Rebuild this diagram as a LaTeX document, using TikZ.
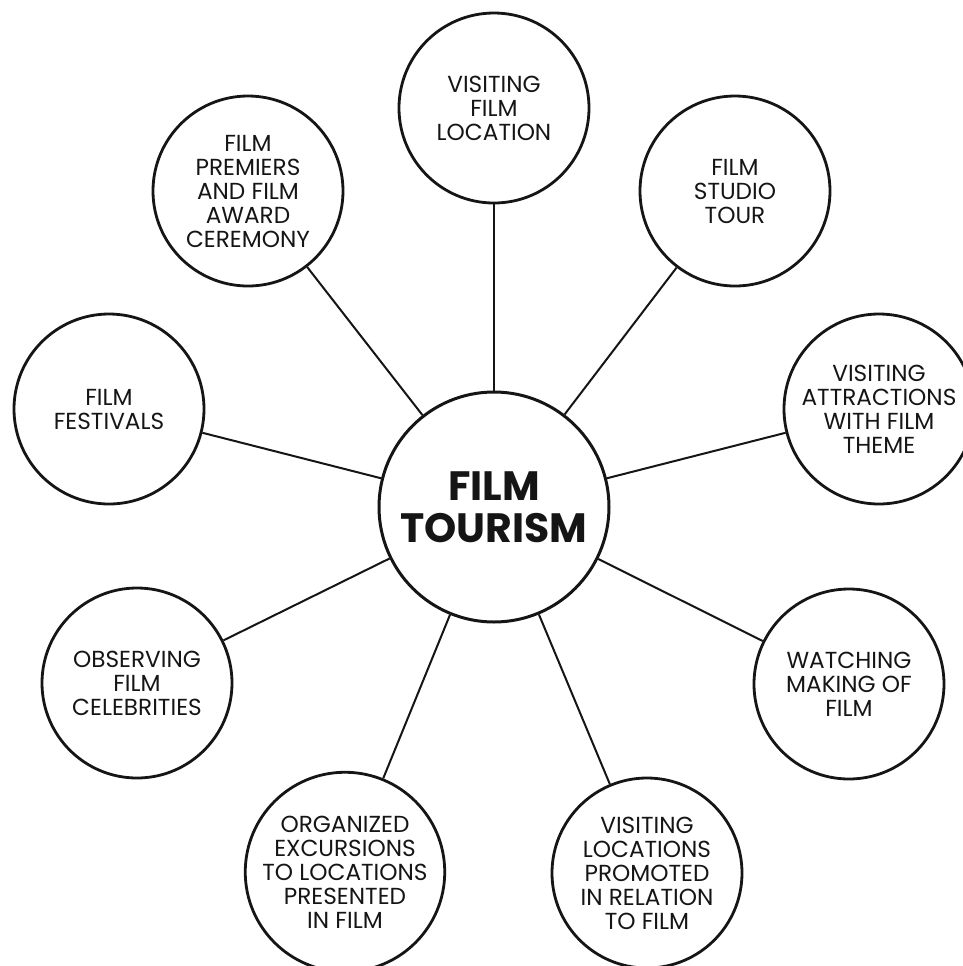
\documentclass[tikz,border=0pt]{standalone}
\usepackage{fontspec}
\setmainfont{Poppins}
\usepackage{xcolor}
\definecolor{InkBlack}{HTML}{151515}
\tikzset{
  % Central hub circle
  hub/.style={
    circle, draw=InkBlack, line width=1.5pt,
    minimum size=115pt, inner sep=0pt,
    align=center, text=InkBlack,
    font=\fontsize{20.5}{21}\selectfont\bfseries
  },
  % Surrounding activity circle
  activity/.style={
    circle, draw=InkBlack, line width=1.4pt,
    minimum size=95pt, inner sep=0pt,
    align=center, text=InkBlack,
    font=\fontsize{11.6}{12}\selectfont
  },
  % Spoke line
  spoke/.style={
    draw=InkBlack, line width=1pt
  }
}
\begin{document}
\begin{tikzpicture}[x=0.5pt, y=-0.5pt]

\useasboundingbox (0,0) rectangle (963,966);

% Hub
\node[hub] (tourism) at (494,507) {FILM\\TOURISM};

% Activities, clockwise from the top
\node[activity] (location)    at (494,108) {VISITING\\FILM\\LOCATION};
\node[activity] (studio)      at (735,191) {FILM\\STUDIO\\TOUR};
\node[activity] (attractions) at (879,409) {VISITING\\ATTRACTIONS\\WITH FILM\\THEME};
\node[activity] (making)      at (849,684) {WATCHING\\MAKING OF\\FILM};
\node[activity] (promoted)    at (647,873) {VISITING\\LOCATIONS\\PROMOTED\\IN RELATION\\TO FILM};
\node[activity] (excursions)  at (345,872) {ORGANIZED\\EXCURSIONS\\TO LOCATIONS\\PRESENTED\\IN FILM};
\node[activity] (celebrities) at (137,683) {OBSERVING\\FILM\\CELEBRITIES};
\node[activity] (festivals)   at (109,409) {FILM\\FESTIVALS};
\node[activity] (premiers)    at (248,191) {FILM\\PREMIERS\\AND FILM\\AWARD\\CEREMONY};

% Spokes
\draw[spoke] (tourism) -- (location);
\draw[spoke] (tourism) -- (studio);
\draw[spoke] (tourism) -- (attractions);
\draw[spoke] (tourism) -- (making);
\draw[spoke] (tourism) -- (promoted);
\draw[spoke] (tourism) -- (excursions);
\draw[spoke] (tourism) -- (celebrities);
\draw[spoke] (tourism) -- (festivals);
\draw[spoke] (tourism) -- (premiers);

\end{tikzpicture}
\end{document}
